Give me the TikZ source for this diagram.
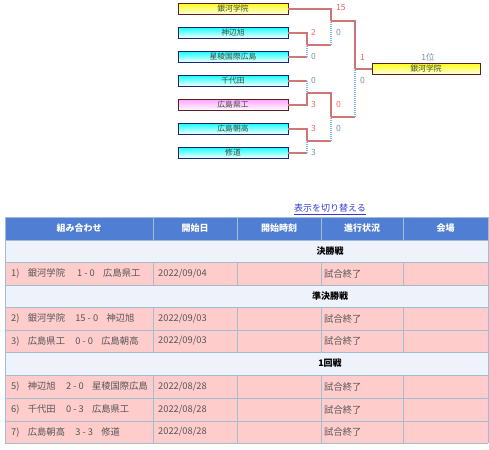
\documentclass[tikz,border=0pt]{standalone}
\usepackage{fontspec}
\setmainfont{Noto Sans CJK JP}
\definecolor{winline}{HTML}{D07575}
\definecolor{loseline}{HTML}{80B4F0}
\definecolor{winnum}{HTML}{F06464}
\definecolor{losenum}{HTML}{7890A8}
\definecolor{headblue}{HTML}{4F7ED2}
\definecolor{sectbg}{HTML}{EEF3FB}
\definecolor{rowpink}{HTML}{FFCCCC}
\definecolor{gridline}{HTML}{A3BCD0}
\definecolor{boxtext}{HTML}{3C4A3C}
\definecolor{celltext}{HTML}{555555}
\definecolor{linkblue}{HTML}{3838D8}
\definecolor{navyline}{HTML}{1A2470}
\definecolor{brownline}{HTML}{5A2020}
\tikzset{
  team/.style={draw, minimum width=110pt, minimum height=11pt, inner sep=0pt,
    font=\fontsize{7.8}{8}\selectfont, text=boxtext, line width=0.9pt},
  goldteam/.style={team, draw=brownline, top color=yellow!90!white, bottom color=yellow!8!white},
  cyanteam/.style={team, draw=navyline, top color=cyan!90!white, bottom color=white},
  pinkteam/.style={team, draw=brownline, top color=magenta!35!white, bottom color=white},
  win/.style={winline, line width=1.6pt},
  lose/.style={loseline, line width=1.2pt, dash pattern=on 1pt off 1pt},
  winscore/.style={anchor=west, inner sep=0pt, text=winnum, font=\fontsize{8.5}{9}\selectfont},
  losescore/.style={anchor=west, inner sep=0pt, text=losenum, font=\fontsize{8.5}{9}\selectfont},
  cell/.style={anchor=west, inner sep=0pt, text=celltext, font=\fontsize{9.3}{10}\selectfont},
  headcell/.style={inner sep=0pt, text=white, font=\fontsize{9}{10}\selectfont\bfseries},
  sectcell/.style={inner sep=0pt, text=black, font=\fontsize{9}{10}\selectfont\bfseries}
}
\begin{document}
\begin{tikzpicture}[x=1pt, y=-1pt]
  \useasboundingbox (0,0) rectangle (489,449);
  % bracket teams
  \node[goldteam] (t1) at (233,9) {銀河学院};
  \node[cyanteam] (t2) at (233,33) {神辺旭};
  \node[cyanteam] (t3) at (233,57) {星稜国際広島};
  \node[cyanteam] (t4) at (233,81) {千代田};
  \node[pinkteam] (t5) at (233,105) {広島県工};
  \node[cyanteam] (t6) at (233,129) {広島朝高};
  \node[cyanteam] (t7) at (233,153) {修道};
  \node[goldteam, minimum width=108pt] (champ) at (426,69) {銀河学院};
  \node[inner sep=0pt, text=losenum, font=\fontsize{8.5}{9}\selectfont] (rank) at (428,57) {1位};
  % joints
  \coordinate (j23) at (307,45);
  \coordinate (j45) at (307,93);
  \coordinate (j67) at (307,141);
  \coordinate (s1) at (331,21);
  \coordinate (s2) at (331,117);
  \coordinate (f) at (355,69);
  % first round
  \draw[win] (t2.east) -| (j23);
  \draw[win] (t3.east) -- (t3.east -| j23);
  \draw[lose] (t3.east -| j23) -- (j23);
  \draw[win] (t4.east) -- (t4.east -| j45);
  \draw[lose] (t4.east -| j45) -- (j45);
  \draw[win] (t5.east) -| (j45);
  \draw[win] (t6.east) -| (j67);
  \draw[win] (t7.east) -- (t7.east -| j67);
  \draw[lose] (t7.east -| j67) -- (j67);
  % semi finals
  \draw[win] (t1.east) -| (s1);
  \draw[win] (j23) -- (j23 -| s1);
  \draw[lose] (j23 -| s1) -- (s1);
  \draw[win] (j45) -| (s2);
  \draw[win] (j67) -- (j67 -| s2);
  \draw[lose] (j67 -| s2) -- (s2);
  % final
  \draw[win] (s1) -| (f);
  \draw[win] (s2) -- (s2 -| f);
  \draw[lose] (s2 -| f) -- (f);
  \draw[win] (f) -- (champ.west);
  % scores
  \node[winscore] (sc1) at (336,7.5) {15};
  \node[losescore] (sc2) at (336,32) {0};
  \node[winscore] (sc3) at (311,32) {2};
  \node[losescore] (sc4) at (311,56) {0};
  \node[winscore] (sc5) at (360,57) {1};
  \node[losescore] (sc6) at (360,80) {0};
  \node[losescore] (sc7) at (311,80) {0};
  \node[winscore] (sc8) at (311,104) {3};
  \node[winscore] (sc9) at (336,104) {0};
  \node[losescore] (sc10) at (336,128) {0};
  \node[winscore] (sc11) at (311,128) {3};
  \node[losescore] (sc12) at (311,152) {3};
  % switch link
  \node[inner sep=0pt, text=linkblue, font=\fontsize{9}{10}\selectfont] (switch) at (330,209.5) {\underline{表示を切り替える}};
  % table background
  \fill[headblue] (5,217) rectangle (488,240);
  \fill[sectbg] (5,240) rectangle (488,262);
  \fill[rowpink] (5,262) rectangle (488,285);
  \fill[sectbg] (5,285) rectangle (488,307);
  \fill[rowpink] (5,307) rectangle (488,352);
  \fill[sectbg] (5,352) rectangle (488,375);
  \fill[rowpink] (5,375) rectangle (488,443);
  % grid
  \foreach \y in {217,240,262,285,307,330,352,375,398,421,443}
    \draw[gridline, line width=1pt] (5,\y) -- (488,\y);
  \draw[gridline, line width=1pt] (5,217) -- (5,443);
  \draw[gridline, line width=1pt] (488,217) -- (488,443);
  \foreach \x in {153,237,321,403}{
    \draw[gridline, line width=1pt] (\x,217) -- (\x,240);
    \draw[gridline, line width=1pt] (\x,262) -- (\x,285);
    \draw[gridline, line width=1pt] (\x,307) -- (\x,352);
    \draw[gridline, line width=1pt] (\x,375) -- (\x,443);
  }
  % header
  \node[headcell] (h1) at (79,228.5) {組み合わせ};
  \node[headcell] (h2) at (195,228.5) {開始日};
  \node[headcell] (h3) at (279,228.5) {開始時刻};
  \node[headcell] (h4) at (362,228.5) {進行状況};
  \node[headcell] (h5) at (445.5,228.5) {会場};
  % sections
  \node[sectcell] (r1) at (330,251) {決勝戦};
  \node[sectcell] (r2) at (330,296) {準決勝戦};
  \node[sectcell] (r3) at (330,363.5) {1回戦};
  % matches
  \node[cell] (m1) at (11,273.5) {1)\hspace{0.9em}銀河学院\hspace{1.3em}1 - 0\hspace{0.9em}広島県工};
  \node[cell] (d1) at (158,273.5) {2022/09/04};
  \node[cell] (p1) at (324,273.5) {試合終了};
  \node[cell] (m2) at (11,318.5) {2)\hspace{0.9em}銀河学院\hspace{1.1em}15 - 0\hspace{0.9em}神辺旭};
  \node[cell] (d2) at (158,318.5) {2022/09/03};
  \node[cell] (p2) at (324,318.5) {試合終了};
  \node[cell] (m3) at (11,341) {3)\hspace{0.9em}広島県工\hspace{1.1em}0 - 0\hspace{0.9em}広島朝高};
  \node[cell] (d3) at (158,341) {2022/09/03};
  \node[cell] (p3) at (324,341) {試合終了};
  \node[cell] (m5) at (11,386.5) {5)\hspace{0.9em}神辺旭\hspace{1.1em}2 - 0\hspace{0.9em}星稜国際広島};
  \node[cell] (d5) at (158,386.5) {2022/08/28};
  \node[cell] (p5) at (324,386.5) {試合終了};
  \node[cell] (m6) at (11,409.5) {6)\hspace{0.9em}千代田\hspace{1.1em}0 - 3\hspace{0.9em}広島県工};
  \node[cell] (d6) at (158,409.5) {2022/08/28};
  \node[cell] (p6) at (324,409.5) {試合終了};
  \node[cell] (m7) at (11,432) {7)\hspace{0.9em}広島朝高\hspace{1.1em}3 - 3\hspace{0.9em}修道};
  \node[cell] (d7) at (158,432) {2022/08/28};
  \node[cell] (p7) at (324,432) {試合終了};
\end{tikzpicture}
\end{document}
